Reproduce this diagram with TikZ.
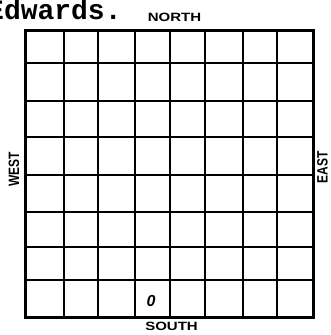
\documentclass[tikz,border=0pt]{standalone}
\usepackage{fontspec}
\setmainfont{Liberation Sans}
\newfontfamily\typew{Liberation Mono}
\begin{document}
\begin{tikzpicture}[x=1pt,y=-1pt,
  thin grid/.style={line width=1.3pt},
  mid grid/.style={line width=2.4pt},
  border/.style={line width=3pt, line join=miter},
  dirlabel/.style={font=\bfseries\fontsize{12}{12}\selectfont, inner sep=0pt, xscale=1.25},
]
\useasboundingbox (0,0) rectangle (330,335);
% thin lines
\foreach \x in {64,98,135,205,243,277} \draw[thin grid] (\x,30) -- (\x,317);
\foreach \y in {63,101,137,212,247,280} \draw[thin grid] (25,\y) -- (313,\y);
% middle lines
\draw[mid grid] (170,30) -- (170,317);
\draw[mid grid] (25,175) -- (313,175);
% border
\draw[border] (25,30) rectangle (313,317);
% title
\node[anchor=base west, inner sep=0pt, font=\typew\bfseries\fontsize{28}{28}\selectfont] (title) at (-13,19.5) {Edwards.};
\node[dirlabel] (north) at (174.5,17.5) {NORTH};
\node[dirlabel] (south) at (171.5,326) {SOUTH};
\node[dirlabel, rotate=90] (west) at (14,169.5) {WEST};
\node[dirlabel, rotate=90] (east) at (322.5,167.5) {EAST};
\node[inner sep=0pt, font=\bfseries\itshape\fontsize{16}{16}\selectfont] (zero) at (151,301) {0};
\end{tikzpicture}
\end{document}
